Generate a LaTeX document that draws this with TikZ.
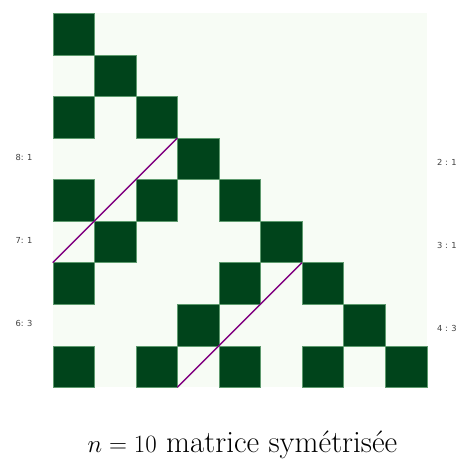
\documentclass[tikz,border=0pt]{standalone}
\usepackage{fontspec}
\newfontfamily\labfont{DejaVu Sans}
\definecolor{dk}{HTML}{00441B}
\definecolor{lt}{HTML}{F7FCF5}
\definecolor{edge}{HTML}{5E9A6E}
\definecolor{pur}{HTML}{800080}
\begin{document}
\begin{tikzpicture}[x=1pt,y=-1pt,
  cell/.style={fill=dk,draw=edge,line width=0.4pt},
  lab/.style={font=\labfont\fontsize{8.3}{10}\selectfont,text=black!75,inner sep=0pt},
  diag/.style={draw=pur,line width=1.4pt}]
\useasboundingbox (0,0) rectangle (472,459);
\def\xo{52.7}\def\yo{13.3}\def\cs{41.56}
\fill[lt] (\xo,\yo) rectangle ({\xo+9*\cs},{\yo+9*\cs});
\foreach \r/\c in {0/0,1/1,2/0,2/2,3/3,4/0,4/2,4/4,5/1,5/5,6/0,6/4,6/6,7/3,7/7,8/0,8/2,8/4,8/6,8/8}
  \path[cell] ({\xo+\c*\cs},{\yo+\r*\cs}) rectangle ++(\cs,\cs);
\coordinate (a1) at ({\xo+3*\cs},{\yo+3*\cs});
\coordinate (a2) at ({\xo},{\yo+6*\cs});
\coordinate (b1) at ({\xo+6*\cs},{\yo+6*\cs});
\coordinate (b2) at ({\xo+3*\cs},{\yo+9*\cs});
\draw[diag] (a1) -- (a2);
\draw[diag] (b1) -- (b2);
\node[lab] (l8) at (24,157) {8: 1};
\node[lab] (l7) at (24,240) {7: 1};
\node[lab] (l6) at (24,323) {6: 3};
\node[lab] (r2) at (447,162) {2 : 1};
\node[lab] (r3) at (447,245) {3 : 1};
\node[lab] (r4) at (447,328) {4 : 3};
\node[font=\fontsize{31}{36}\selectfont,inner sep=0pt,anchor=base] (title) at (242.5,452) {$n=10$ matrice symétrisée};
\end{tikzpicture}
\end{document}
